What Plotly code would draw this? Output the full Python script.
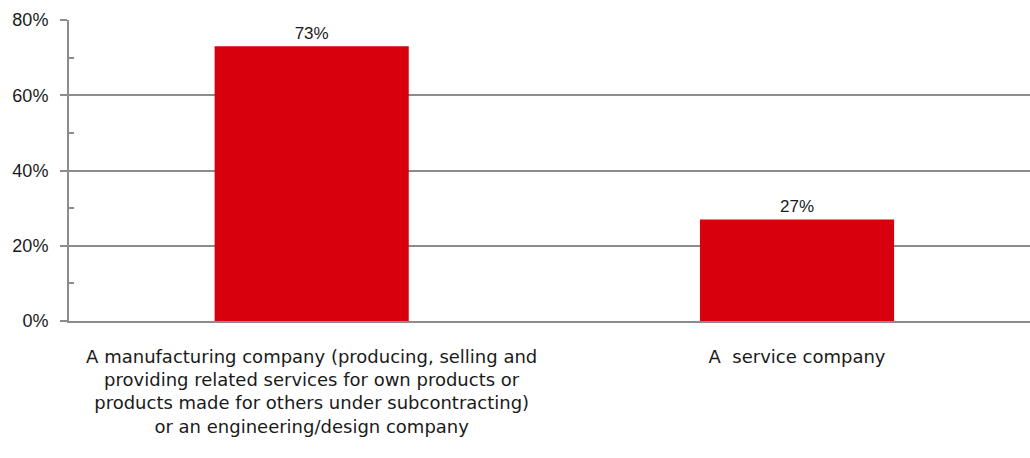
import plotly.graph_objects as go

categories = [
    "A manufacturing company (producing, selling and<br>providing related services for own products or<br>products made for others under subcontracting)<br>or an engineering/design company",
    "A  service company",
]
shares = [0.73, 0.27]
y_ticks = [0, 0.2, 0.4, 0.6, 0.8]
y_minor = [0.1, 0.3, 0.5, 0.7]

FONT = "Liberation Sans"
CAT_FONT = "DejaVu Sans"
RED = "#d9000d"
GRID = "#8c8c8c"
INK = "#1a1a1a"

fig = go.Figure()
fig.add_trace(go.Bar(
    x=[0, 1], y=shares, width=0.4,
    marker=dict(color=RED, line=dict(width=0)),
    text=[f"{v:.0%}" for v in shares], textposition="outside",
    textfont=dict(family=FONT, size=17, color=INK),
    cliponaxis=False, hoverinfo="skip",
))
# companion axis carrying the short inner ticks at the odd tens
fig.add_trace(go.Scatter(x=[0], y=[0], yaxis="y2", mode="markers",
                         marker=dict(opacity=0), hoverinfo="skip", showlegend=False))

fig.update_layout(
    width=1030, height=458,
    margin=dict(l=69, r=0, t=20, b=137),
    paper_bgcolor="white", plot_bgcolor="white",
    showlegend=False,
    bargap=0.6,
    xaxis=dict(
        range=[-0.5, 1.48],
        tickmode="array", tickvals=[0, 1], ticktext=categories,
        ticks="", showgrid=False, zeroline=False,
        showline=True, linecolor=GRID, linewidth=2,
        tickfont=dict(family=CAT_FONT, size=18, color=INK),
        ticklabelstandoff=18,
    ),
    yaxis=dict(
        range=[0, 0.8], tickvals=y_ticks, tickformat=".0%",
        ticks="outside", ticklen=7, tickcolor=GRID, tickwidth=1.5,
        showgrid=True, gridcolor=GRID, gridwidth=1.5,
        zeroline=False, showline=True, linecolor=GRID, linewidth=2,
        tickfont=dict(family=FONT, size=18, color=INK),
        ticklabelstandoff=8,
    ),
    yaxis2=dict(
        overlaying="y", side="left", range=[0, 0.8],
        tickvals=y_minor, showticklabels=False,
        ticks="inside", ticklen=5, tickcolor=GRID, tickwidth=1.5,
        showgrid=False, zeroline=False, showline=False,
    ),
)

fig.write_html("out.html")
